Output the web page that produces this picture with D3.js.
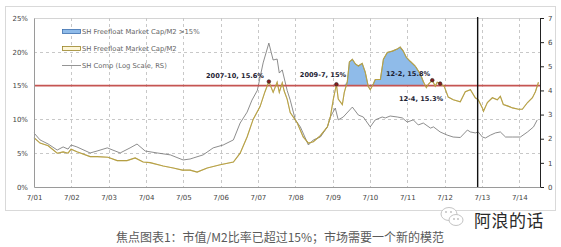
<!DOCTYPE html>
<html>
<head>
<meta charset="utf-8">
<script src="https://cdn.jsdelivr.net/npm/d3@7"></script>
<style>
  body { margin: 0; background: #fff; }
  svg { display: block; }
</style>
</head>
<body>
<svg id="chart" width="561" height="247"></svg>
<script>
// 市值/M2 (%), 左轴
const ratioDates = ["2001-07-01","2001-08-29","2001-11-17","2002-02-13","2002-04-12","2002-05-30","2002-06-29","2002-08-25",
  "2003-01-01","2003-03-10","2003-06-25","2003-09-23","2003-12-28","2004-03-17","2004-06-03","2004-08-10","2004-12-16",
  "2005-03-25","2005-06-21","2005-09-06","2005-11-13","2006-02-20","2006-06-27","2006-11-03","2007-01-08","2007-03-17",
  "2007-05-15","2007-07-22","2007-09-08","2007-10-16","2007-11-27","2008-01-05","2008-01-26","2008-02-24","2008-03-14",
  "2008-04-12","2008-05-12","2008-07-19","2008-09-16","2008-11-06","2008-12-24","2009-03-03","2009-05-11","2009-06-09",
  "2009-07-08","2009-08-07","2009-08-25","2009-10-04","2009-10-23","2009-11-21","2009-12-12","2010-01-10","2010-02-09",
  "2010-03-10","2010-04-16","2010-05-16","2010-06-14","2010-07-04","2010-08-02","2010-08-22","2010-10-11","2010-11-10",
  "2010-12-18","2011-02-05","2011-03-25","2011-04-23","2011-05-23","2011-06-21","2011-07-30","2011-09-17","2011-11-06",
  "2011-12-05","2012-01-04","2012-01-23","2012-03-02","2012-03-31","2012-04-19","2012-05-18","2012-06-27","2012-08-05",
  "2012-09-23","2012-12-01","2013-01-19","2013-03-10","2013-04-27","2013-05-26","2013-07-05","2013-07-16","2013-08-23",
  "2013-10-11","2013-11-28","2013-12-28","2014-01-26","2014-03-07","2014-04-26","2014-06-24","2014-07-31","2014-09-20",
  "2014-11-07","2014-12-06","2015-01-05"];
const ratioValues = [7.3,6.5,6.1,5.0,5.2,5.0,5.6,5.2,
  4.5,4.5,4.4,3.9,3.9,4.3,3.7,3.6,3.1,
  2.8,2.5,2.5,2.2,2.8,3.3,3.7,5.0,7.4,
  10.0,11.9,14.1,15.6,14.0,15.5,14.0,15.4,14.2,
  13.0,11.0,9.5,7.4,6.5,6.7,7.6,8.9,10.4,
  13.0,15.2,13.0,12.2,14.0,15.5,18.5,18.9,18.2,
  17.9,18.3,17.0,14.9,14.4,15.2,15.9,15.9,18.9,
  19.9,20.1,20.4,20.7,20.1,19.2,18.6,17.9,16.7,
  15.6,14.7,15.2,15.8,14.9,15.5,15.3,14.9,13.3,
  12.9,12.6,14.1,14.4,13.2,12.9,11.7,11.2,12.5,
  13.2,12.9,13.4,12.2,12.0,11.7,11.5,11.5,12.5,
  13.2,14.1,15.5];

// 上证综指 (对数, 右轴)
const compDates = ["2001-07-01","2001-08-29","2001-11-17","2002-02-13","2002-04-12","2002-05-30","2002-06-29","2002-08-25",
  "2003-01-01","2003-03-10","2003-06-18","2003-10-22","2004-01-27","2004-04-04","2004-06-23","2004-10-18","2005-02-24",
  "2005-06-29","2005-09-06","2005-10-05","2006-01-11","2006-04-19","2006-07-26","2006-11-03","2007-01-08","2007-03-17",
  "2007-05-04","2007-06-25","2007-08-21","2007-10-16","2007-11-27","2008-01-05","2008-01-26","2008-02-24","2008-04-12",
  "2008-05-12","2008-07-01","2008-08-19","2008-11-06","2008-12-24","2009-03-03","2009-05-11","2009-06-09","2009-07-27",
  "2009-08-25","2009-10-13","2010-01-10","2010-03-10","2010-04-27","2010-07-04","2010-08-22","2010-10-29","2010-11-28",
  "2011-01-15","2011-03-25","2011-05-14","2011-07-01","2011-08-29","2011-10-17","2011-12-05","2012-02-13","2012-03-14",
  "2012-05-18","2012-07-26","2012-09-23","2012-12-01","2013-02-09","2013-03-10","2013-04-27","2013-05-26","2013-07-05",
  "2013-08-04","2013-09-23","2013-11-10","2013-12-28","2014-02-17","2014-04-26","2014-07-12","2014-09-20","2014-11-18",
  "2014-12-24"];
const compValues = [2.24,1.95,1.78,1.53,1.66,1.57,1.74,1.66,
  1.41,1.49,1.62,1.41,1.62,1.78,1.49,1.41,1.33,
  1.12,1.16,1.20,1.33,1.62,1.74,1.95,2.65,3.1,
  3.6,4.0,5.14,5.96,5.26,5.3,4.72,4.85,4.0,
  3.6,2.78,2.49,1.74,1.95,2.07,2.49,2.9,3.27,
  2.78,2.9,3.31,2.98,2.9,2.49,2.78,2.9,2.86,
  2.94,2.9,2.86,2.69,2.78,2.57,2.65,2.44,2.49,
  2.28,2.15,2.07,2.05,2.36,2.28,2.24,2.28,2.07,
  2.03,2.15,2.24,2.28,2.07,2.07,2.07,2.28,2.49,
  2.78];

// 标注
const noteDates = ["2007-10-16","2009-08-07","2012-03-02","2012-05-18"];
const noteValues = [15.6,15.2,15.8,15.3];
const noteLabels = ["2007-10, 15.6%","2009-7, 15%","12-2, 15.8%","12-4, 15.3%"];

const tickYears = d3.range(2001, 2015);
const leftTicks = [0,5,10,15,20,25];
const rightTicks = [0,1,2,3,4,5,6,7];
const threshold = 15;
const blueWindow = ["2009-10-20","2011-12-31"];
const markerDate = "2013-05-20";

const legendLabels = ["SH Freefloat Market Cap/M2 >15%","SH Freefloat Market Cap/M2","SH Comp (Log Scale, RS)"];
const caption = "焦点图表1：市值/M2比率已超过15%；市场需要一个新的模范";
const watermark = "阿浪的话";

const parse = d3.timeParse("%Y-%m-%d");
const ratio = ratioDates.map((d, i) => ({date: parse(d), v: ratioValues[i]}));
const comp = compDates.map((d, i) => ({date: parse(d), v: compValues[i]}));

const svg = d3.select("#chart");
const L = 34, R = 540, T = 18, B = 187;

const x = d3.scaleTime().domain([new Date(2001, 6, 1), new Date(2015, 0, 20)]).range([L, R]);
const yL = d3.scaleLinear().domain([0, 25]).range([B, T]);
const yR = d3.scaleLinear().domain([0, 7]).range([B, T]);

// 外框
svg.append("rect").attr("x", 5.5).attr("y", 6.5).attr("width", 550).attr("height", 204)
  .attr("fill", "#fff").attr("stroke", "#d9d9d9");

// 网格
svg.append("g").selectAll("line").data(leftTicks.filter(d => d !== threshold && d !== 0)).join("line")
  .attr("x1", L).attr("x2", R).attr("y1", d => Math.round(yL(d)) + 0.5).attr("y2", d => Math.round(yL(d)) + 0.5)
  .attr("stroke", d => d === 25 ? "#d4d4d4" : "#c8c8c8")
  .attr("stroke-dasharray", d => d === 25 ? null : "3,3");
svg.append("g").selectAll("line").data(tickYears.slice(1)).join("line")
  .attr("x1", d => Math.round(x(new Date(d, 6, 1))) + 0.5).attr("x2", d => Math.round(x(new Date(d, 6, 1))) + 0.5)
  .attr("y1", T).attr("y2", B)
  .attr("stroke", "#c8c8c8").attr("stroke-dasharray", "3,3");

// >15% 蓝色区域
const w0 = parse(blueWindow[0]), w1 = parse(blueWindow[1]);
const blueData = ratio.filter(d => d.date >= w0 && d.date <= w1);
svg.append("path").datum(blueData)
  .attr("d", d3.area().x(d => x(d.date)).y0(yL(threshold)).y1(d => yL(Math.max(d.v, threshold))))
  .attr("fill", "#8fbbe9").attr("stroke", "#6a9bd4").attr("stroke-width", 0.5);

// 灰线
svg.append("path").datum(comp)
  .attr("d", d3.line().x(d => x(d.date)).y(d => yR(d.v)))
  .attr("fill", "none").attr("stroke", "#707070").attr("stroke-width", 0.8);

// 15% 红线
svg.append("line").attr("x1", L).attr("x2", R).attr("y1", yL(threshold)).attr("y2", yL(threshold))
  .attr("stroke", "#c55552").attr("stroke-width", 1.8);

// 市值/M2 线
const ratioLine = d3.line().x(d => x(d.date)).y(d => yL(d.v));
svg.append("path").datum(ratio).attr("d", ratioLine)
  .attr("fill", "none").attr("stroke", "#a08a2c").attr("stroke-width", 1.1);
svg.append("path").datum(ratio).attr("d", ratioLine)
  .attr("fill", "none").attr("stroke", "#ecd47a").attr("stroke-width", 0.35);

// 黑色竖线
svg.append("line").attr("x1", x(parse(markerDate))).attr("x2", x(parse(markerDate)))
  .attr("y1", T - 1).attr("y2", B).attr("stroke", "#111").attr("stroke-width", 1.4);

// 坐标轴
const axL = svg.append("g").attr("transform", `translate(${L},0)`)
  .call(d3.axisLeft(yL).tickValues(leftTicks).tickSize(0).tickPadding(6).tickFormat(d => d + "%"));
const axR = svg.append("g").attr("transform", `translate(${R},0)`)
  .call(d3.axisRight(yR).tickValues(rightTicks).tickSize(4).tickPadding(4).tickFormat(d3.format("d")));
const axB = svg.append("g").attr("transform", `translate(0,${B})`)
  .call(d3.axisBottom(x).tickValues(tickYears.map(y => new Date(y, 6, 1))).tickSize(0).tickPadding(8)
    .tickFormat(d => "7/" + d3.timeFormat("%y")(d)));
axL.select(".domain").attr("stroke", "#9a9a9a");
axB.select(".domain").attr("stroke", "#9a9a9a");
axR.select(".domain").attr("stroke", "#222");
axR.selectAll(".tick line").attr("stroke", "#222");
[axL, axR, axB].forEach(a => a.selectAll("text")
  .attr("font-family", "DejaVu Sans").attr("font-size", 7).attr("fill", "#444"));

// 标注点与文字
svg.append("g").selectAll("circle").data(noteDates).join("circle")
  .attr("cx", d => x(parse(d))).attr("cy", (d, i) => yL(noteValues[i])).attr("r", 1.8)
  .attr("fill", "#8a1c1c").attr("stroke", "#222").attr("stroke-width", 0.6);
const notePos = [[235, 78], [323, 77], [408, 76], [421, 101]];
svg.append("g").selectAll("text").data(noteLabels).join("text")
  .attr("x", (d, i) => notePos[i][0]).attr("y", (d, i) => notePos[i][1])
  .attr("text-anchor", "middle")
  .attr("font-family", "DejaVu Sans").attr("font-weight", "bold").attr("font-size", 6.6)
  .attr("fill", "#1d2233").text(d => d);

// 图例
const lg = svg.append("g").attr("transform", "translate(62,0)");
lg.append("rect").attr("x", 0.5).attr("y", 29.5).attr("width", 18).attr("height", 4)
  .attr("fill", "#8fbbe9").attr("stroke", "#3d6fae").attr("stroke-width", 0.8);
lg.append("rect").attr("x", 0.5).attr("y", 46.5).attr("width", 18).attr("height", 4)
  .attr("fill", "#fdf6d8").attr("stroke", "#9a8426").attr("stroke-width", 0.8);
lg.append("line").attr("x1", 0).attr("x2", 19).attr("y1", 65.5).attr("y2", 65.5)
  .attr("stroke", "#7a7a7a").attr("stroke-width", 0.8);
lg.selectAll("text").data(legendLabels).join("text")
  .attr("x", 20).attr("y", (d, i) => [34, 51, 68][i])
  .attr("font-family", "DejaVu Sans").attr("font-size", 6.8).attr("fill", "#666")
  .text(d => d);

// 标题
svg.append("text").attr("x", 280).attr("y", 242).attr("text-anchor", "middle")
  .attr("font-family", "Noto Sans CJK SC").attr("font-size", 12).attr("fill", "#5a5a5a")
  .text(caption);

// 水印
const wm = svg.append("g").attr("transform", "translate(441,207)");
wm.append("ellipse").attr("cx", 8).attr("cy", 7).attr("rx", 8).attr("ry", 6.5)
  .attr("fill", "#fff").attr("stroke", "#c4c4c4").attr("stroke-width", 1);
wm.append("ellipse").attr("cx", 15).attr("cy", 13).attr("rx", 7).attr("ry", 5.5)
  .attr("fill", "#fff").attr("stroke", "#c4c4c4").attr("stroke-width", 1);
wm.selectAll("circle").data([[5, 5], [10, 5], [13, 12], [17, 12]]).join("circle")
  .attr("cx", d => d[0]).attr("cy", d => d[1]).attr("r", 0.9).attr("fill", "#bbb");
svg.append("text").attr("x", 474).attr("y", 227)
  .attr("font-family", "Noto Sans CJK SC").attr("font-size", 17).attr("fill", "#2a2a2a")
  .attr("letter-spacing", 0.5)
  .text(watermark);
</script>
</body>
</html>
